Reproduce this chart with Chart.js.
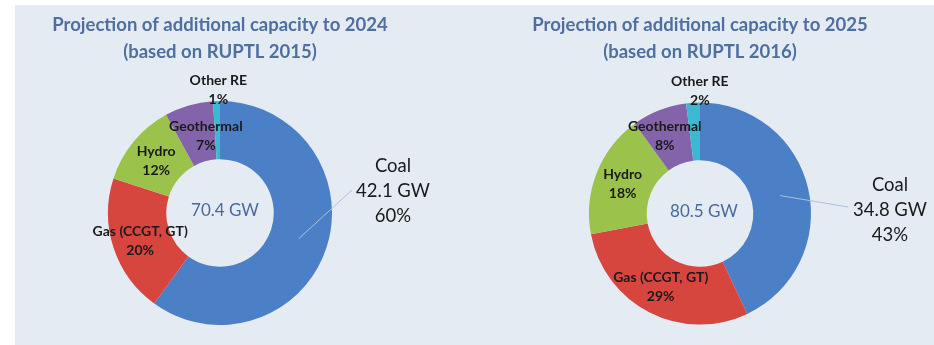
<!DOCTYPE html>
<html>
<head>
<meta charset="utf-8">
<script src="https://cdn.jsdelivr.net/npm/chart.js@4/dist/chart.umd.min.js"></script>
<style>
  html, body { margin:0; padding:0; background:#ffffff; }
  #stage { position:relative; width:934px; height:345px; overflow:hidden; }
  #bg { position:absolute; left:15px; top:5px; right:0; bottom:0; background:#e5ebf3; }
  canvas { position:absolute; top:0; }
  #c1 { left:0; }
  #c2 { left:467px; }
</style>
</head>
<body>
<div id="stage">
  <div id="bg"></div>
  <canvas id="c1" width="467" height="345"></canvas>
  <canvas id="c2" width="467" height="345"></canvas>
</div>
<script>
// ---- data ----
const categories = ['Coal', 'Gas (CCGT, GT)', 'Hydro', 'Geothermal', 'Other RE'];
const share2024 = [60, 20, 12, 7, 1];
const share2025 = [43, 29, 18, 8, 2];
const coalGW2024 = 42.1;
const coalGW2025 = 34.8;
const total2024 = 70.4;
const total2025 = 80.5;
const title2024 = ['Projection of additional capacity to 2024', '(based on RUPTL 2015)'];
const title2025 = ['Projection of additional capacity to 2025', '(based on RUPTL 2016)'];
const sliceColors = ['#4b80c6', '#d6463f', '#9bc24a', '#8364ab', '#3cb9d0'];

const FONT = 'Lato, "Open Sans", sans-serif';

const labelPlugin = {
  id: 'sliceLabels',
  afterDatasetsDraw(chart, args, opts) {
    const ctx = chart.ctx;
    const meta = chart.getDatasetMeta(0);
    const ds = chart.data.datasets[0];
    const cx = meta.data[0].x, cy = meta.data[0].y;
    ctx.save();
    ctx.textAlign = 'center';
    ctx.textBaseline = 'middle';
    // title (two lines, centred over the doughnut)
    ctx.fillStyle = '#4e6f9f';
    ctx.font = 'bold 18.5px ' + FONT;
    opts.title.forEach((line, k) => ctx.fillText(line, cx, opts.titleY + k * 27));
    // centre total
    ctx.fillStyle = '#4a6a9c';
    ctx.font = '17px ' + FONT;
    ctx.fillText(opts.total.toFixed(1) + ' GW', cx + opts.totalDx, cy - 2);

    meta.data.forEach((arc, i) => {
      const pct = ds.data[i] + '%';
      const name = chart.data.labels[i];
      const c = arc.getCenterPoint();
      if (i === 0) {
        const tx = cx + opts.coal.dx, ty = cy + opts.coal.dy;
        ctx.strokeStyle = '#a9c1de';
        ctx.lineWidth = 1;
        ctx.beginPath();
        ctx.moveTo(c.x, c.y);
        ctx.lineTo(cx + opts.coal.lx, cy + opts.coal.ly);
        ctx.stroke();
        ctx.fillStyle = '#1a1a1a';
        ctx.font = '18.5px ' + FONT;
        ctx.fillText(name, tx, ty - 25);
        ctx.fillText(opts.coalGW.toFixed(1) + ' GW', tx, ty);
        ctx.fillText(pct, tx, ty + 25);
      } else {
        const off = opts.offsets[i];
        const x = c.x + off[0], y = c.y + off[1];
        ctx.fillStyle = '#1a1a1a';
        ctx.font = 'bold 14px ' + FONT;
        ctx.fillText(name, x, y - 9.5);
        ctx.fillText(pct, x, y + 9.5);
      }
    });
    ctx.restore();
  }
};

function makeChart(id, shares, titleLines, total, coalGW, pad, labelOpts) {
  return new Chart(document.getElementById(id), {
    type: 'doughnut',
    data: {
      labels: categories,
      datasets: [{
        data: shares,
        backgroundColor: sliceColors,
        borderWidth: 0,
        hoverOffset: 0
      }]
    },
    options: {
      responsive: false,
      animation: false,
      cutout: '48%',
      layout: { padding: { left: pad.l, right: pad.r, top: pad.t, bottom: pad.b } },
      plugins: {
        legend: { display: false },
        tooltip: { enabled: false },
        title: { display: false },
        sliceLabels: Object.assign({ total: total, coalGW: coalGW, title: titleLines, titleY: 25 }, labelOpts)
      }
    },
    plugins: [labelPlugin]
  });
}

makeChart('c1', share2024, title2024, total2024, coalGW2024,
  { l: 108, r: 135, t: 101, b: 20 },
  { totalDx: 5, coal: { dx: 173, dy: -22, lx: 132, ly: -23 },
    offsets: [null, [-1, 2], [0, 1], [9, 2.5], [1, -40]] });

makeChart('c2', share2025, title2025, total2025, coalGW2025,
  { l: 122, r: 123, t: 102.5, b: 20.5 },
  { totalDx: 4, coal: { dx: 190, dy: -3.5, lx: 148, ly: -6.5 },
    offsets: [null, [-2, 0], [-1, 1], [-5, -1], [5, -41]] });
</script>
</body>
</html>
